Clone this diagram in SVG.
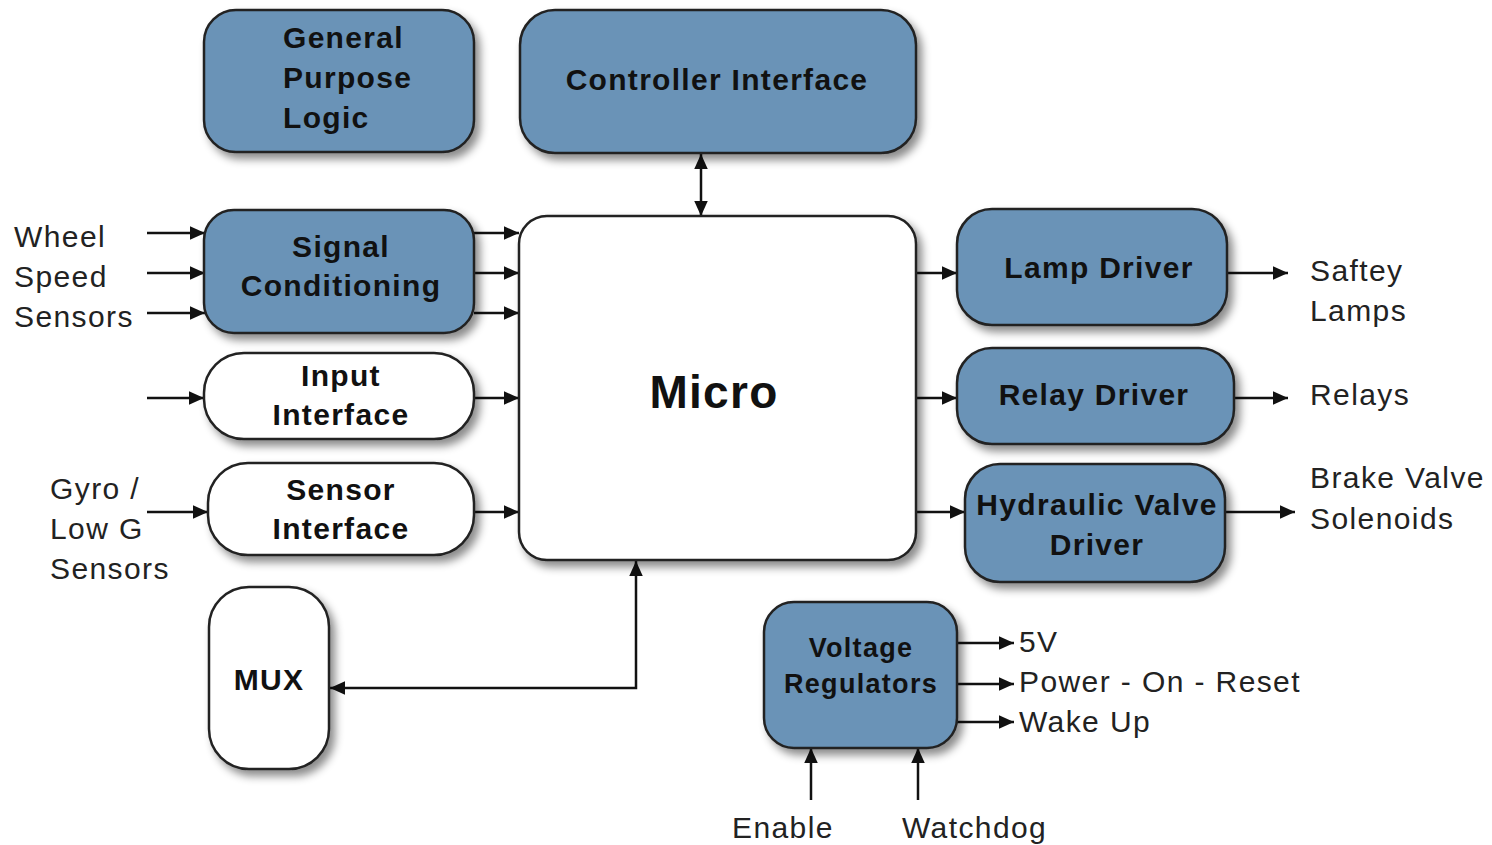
<svg xmlns="http://www.w3.org/2000/svg" width="1492" height="845" viewBox="0 0 1492 845">
<defs>
<filter id="sh" x="-20%" y="-20%" width="150%" height="150%">
<feDropShadow dx="5" dy="6" stdDeviation="4" flood-color="#000" flood-opacity="0.45"/>
</filter>
<marker id="ah" viewBox="0 0 10 10" refX="10" refY="5" markerWidth="15" markerHeight="15" markerUnits="userSpaceOnUse" orient="auto-start-reverse">
<path d="M0,0.5 L10,5 L0,9.5 z" fill="#111"/>
</marker>
</defs>
<style>
.blue{fill:#6a93b7;stroke:#222;stroke-width:2.5;filter:url(#sh)}
.white{fill:#fff;stroke:#222;stroke-width:2.5;filter:url(#sh)}
.t{font-family:"Liberation Sans",Arial,sans-serif;font-weight:bold;font-size:30px;fill:#111;letter-spacing:1.3px}
.tc{text-anchor:middle}
.l{font-family:"Liberation Sans",Arial,sans-serif;font-size:30px;fill:#222;letter-spacing:1.4px}
.c{stroke:#111;stroke-width:2.5;fill:none;marker-end:url(#ah)}
.c2{stroke:#111;stroke-width:2.5;fill:none;marker-end:url(#ah);marker-start:url(#ah)}
</style>
<g id="connectors">
<line class="c" x1="147" y1="233" x2="205" y2="233"/>
<line class="c" x1="147" y1="273" x2="205" y2="273"/>
<line class="c" x1="147" y1="313" x2="205" y2="313"/>
<line class="c" x1="474" y1="233" x2="519" y2="233"/>
<line class="c" x1="474" y1="273" x2="519" y2="273"/>
<line class="c" x1="474" y1="313" x2="519" y2="313"/>
<line class="c" x1="147" y1="398" x2="204" y2="398"/>
<line class="c" x1="474" y1="398" x2="519" y2="398"/>
<line class="c" x1="147" y1="512" x2="208" y2="512"/>
<line class="c" x1="474" y1="512" x2="519" y2="512"/>
<line class="c2" x1="701" y1="154" x2="701" y2="216"/>
<path class="c2" d="M636,561 L636,688 L330,688"/>
<line class="c" x1="916" y1="273" x2="957" y2="273"/>
<line class="c" x1="916" y1="398" x2="957" y2="398"/>
<line class="c" x1="916" y1="512" x2="965" y2="512"/>
<line class="c" x1="1227" y1="273" x2="1288" y2="273"/>
<line class="c" x1="1234" y1="398" x2="1288" y2="398"/>
<line class="c" x1="1225" y1="512" x2="1295" y2="512"/>
<line class="c" x1="957" y1="643" x2="1014" y2="643"/>
<line class="c" x1="957" y1="684" x2="1014" y2="684"/>
<line class="c" x1="957" y1="722" x2="1014" y2="722"/>
<line class="c" x1="811" y1="800" x2="811" y2="748"/>
<line class="c" x1="918" y1="800" x2="918" y2="748"/>
</g>
<g id="general-purpose-logic">
<rect class="blue" x="204" y="10" width="270" height="142" rx="32"/>
<text class="t" x="283" y="48">General</text>
<text class="t" x="283" y="88">Purpose</text>
<text class="t" x="283" y="128">Logic</text>
</g>
<g id="controller-interface">
<rect class="blue" x="520" y="10" width="396" height="143" rx="35"/>
<text class="t tc" x="717" y="90">Controller Interface</text>
</g>
<g id="signal-conditioning">
<rect class="blue" x="204" y="210" width="270" height="123" rx="30"/>
<text class="t tc" x="341" y="257">Signal</text>
<text class="t tc" x="341" y="296">Conditioning</text>
</g>
<g id="input-interface">
<rect class="white" x="204" y="353" width="270" height="86" rx="40"/>
<text class="t tc" x="341" y="386">Input</text>
<text class="t tc" x="341" y="425">Interface</text>
</g>
<g id="sensor-interface">
<rect class="white" x="208" y="463" width="266" height="92" rx="40"/>
<text class="t tc" x="341" y="500">Sensor</text>
<text class="t tc" x="341" y="539">Interface</text>
</g>
<g id="mux">
<rect class="white" x="209" y="587" width="120" height="182" rx="40"/>
<text class="t tc" x="269" y="690">MUX</text>
</g>
<g id="micro">
<rect class="white" x="519" y="216" width="397" height="344" rx="28"/>
<text class="t tc" x="714" y="408" style="font-size:46px">Micro</text>
</g>
<g id="lamp-driver">
<rect class="blue" x="957" y="209" width="270" height="116" rx="35"/>
<text class="t tc" x="1099" y="278">Lamp Driver</text>
</g>
<g id="relay-driver">
<rect class="blue" x="957" y="348" width="277" height="96" rx="35"/>
<text class="t tc" x="1094" y="405">Relay Driver</text>
</g>
<g id="hydraulic-valve-driver">
<rect class="blue" x="965" y="464" width="260" height="118" rx="35"/>
<text class="t tc" x="1097" y="515">Hydraulic Valve</text>
<text class="t tc" x="1097" y="555">Driver</text>
</g>
<g id="voltage-regulators">
<rect class="blue" x="764" y="602" width="193" height="146" rx="30"/>
<text class="t tc" x="861" y="657" style="font-size:27px">Voltage</text>
<text class="t tc" x="861" y="693" style="font-size:27px">Regulators</text>
</g>
<g id="labels">
<text class="l" x="14" y="247">Wheel</text>
<text class="l" x="14" y="287">Speed</text>
<text class="l" x="14" y="327">Sensors</text>
<text class="l" x="50" y="499">Gyro /</text>
<text class="l" x="50" y="539">Low G</text>
<text class="l" x="50" y="579">Sensors</text>
<text class="l" x="1310" y="281">Saftey</text>
<text class="l" x="1310" y="321">Lamps</text>
<text class="l" x="1310" y="405">Relays</text>
<text class="l" x="1310" y="488">Brake Valve</text>
<text class="l" x="1310" y="529">Solenoids</text>
<text class="l" x="1019" y="652">5V</text>
<text class="l" x="1019" y="692">Power - On - Reset</text>
<text class="l" x="1019" y="732">Wake Up</text>
<text class="l" x="732" y="838">Enable</text>
<text class="l" x="902" y="838">Watchdog</text>
</g>
</svg>
